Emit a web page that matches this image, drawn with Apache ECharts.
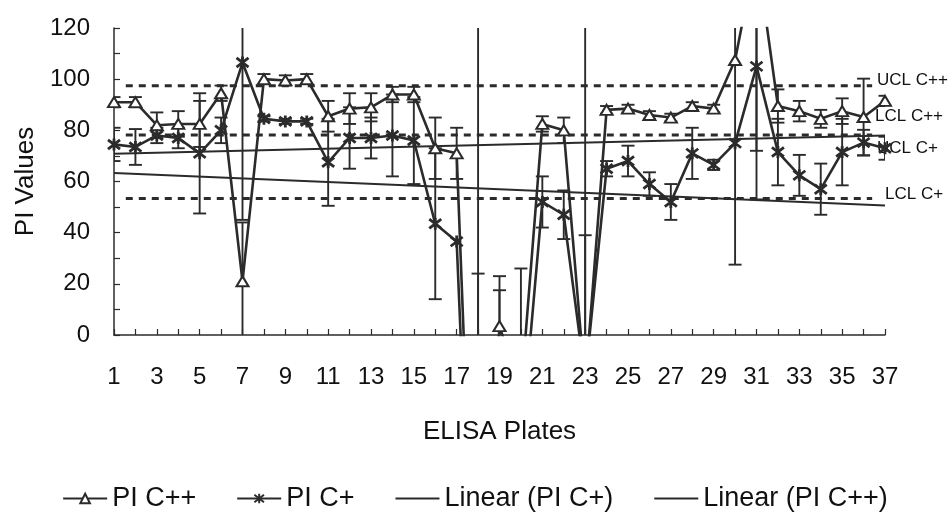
<!DOCTYPE html>
<html>
<head>
<meta charset="utf-8">
<script src="https://cdn.jsdelivr.net/npm/echarts@6/dist/echarts.min.js"></script>
<style>
html,body{margin:0;padding:0;background:#fff;}
#chart{width:950px;height:524px;}
</style>
</head>
<body>
<div id="chart"></div>
<script>
// ---- data ----
var plates = [1,2,3,4,5,6,7,8,9,10,11,12,13,14,15,16,17,18,19,20,21,22,23,24,25,26,27,28,29,30,31,32,33,34,35,36,37];
var piCpp = [91,91,82,82.5,82.5,94.5,21,100,99.5,100,85.5,88.5,89,94,94,73,71,-146,3.5,-23,82.5,80,-20,88,88.5,86,85,89.5,88.5,107.5,150,89.5,87.5,84.5,87.5,85.2,91.5];
var piCppErr = [2,2,5,5,9,3,23,2,2,2,6,6,5.5,3,3,12,10,270,19.5,49,3,5,145,1.5,1.5,1.5,1.5,1.5,1.5,80,97,6.5,4,3.5,5,15,2];
var piCp = [74.5,73.5,78,77,71,80,106.5,84.5,83.5,83.5,67.5,77,77,78,76,43.5,36.5,-161,-60,-43,52,47,-17,65,68,59,52,71,66.5,75,105,71.5,62.4,57,71.5,75.2,73];
var piCpErr = [6.5,7,3,4,23.5,5,61.5,1,1,1,17,12,8,16,17,29.5,0,185,77.5,0,10,9.5,56,3,6,4.6,7,10,2,0,33,13,8,10,13,5,4.5];
var trendCpPlates = [1,37];
var trendCpValues = [70.8,78];
var trendCppPlates = [1,37];
var trendCppValues = [63.3,50.6];
var limitNames = ['UCL C++','LCL C++','UCL C+','LCL C+'];
var limitLineValues = [97.4,78.2,53.4];
var limitSpan = [1.55,36.4];
var yTicks = [0,20,40,60,80,100,120];

// ---- build ----
var FONT = '"Liberation Sans", Arial, sans-serif';
var INK = '#2b2b2b';
function pairs(xs, ys){ return xs.map(function(x,i){ return [x, ys[i]]; }); }
function errData(vals, errs){
  var out = [];
  plates.forEach(function(p,i){ if (errs[i] > 0) out.push([p, vals[i]-errs[i], vals[i]+errs[i]]); });
  return out;
}
function errSeries(data){
  return {
    type:'custom', silent:true, clip:true, z:3,
    data:data,
    encode:{x:0,y:[1,2]},
    renderItem:function(params, api){
      var x = api.value(0);
      var lo = api.coord([x, api.value(1)]);
      var hi = api.coord([x, api.value(2)]);
      var hw = 6.5;
      var st = {stroke:INK, lineWidth:1.9, fill:null};
      return {type:'group', children:[
        {type:'line', shape:{x1:lo[0],y1:lo[1],x2:hi[0],y2:hi[1]}, style:st},
        {type:'line', shape:{x1:lo[0]-hw,y1:lo[1],x2:lo[0]+hw,y2:lo[1]}, style:st},
        {type:'line', shape:{x1:hi[0]-hw,y1:hi[1],x2:hi[0]+hw,y2:hi[1]}, style:st}
      ]};
    }
  };
}
var asterisk = 'path://M0,0L10,10M10,0L0,10M5,-1.5L5,11.5';

var series = [
  errSeries(errData(piCpp, piCppErr)),
  errSeries(errData(piCp, piCpErr)),
  {name:'PI C++', type:'line', data:pairs(plates, piCpp), z:5,
   symbol:'triangle', symbolSize:[12,10], showSymbol:true,
   lineStyle:{color:INK, width:2.6}, itemStyle:{color:'#fff', borderColor:INK, borderWidth:2}},
  {name:'PI C+', type:'line', data:pairs(plates, piCp), z:5,
   symbol:asterisk, symbolSize:12, showSymbol:true,
   lineStyle:{color:INK, width:2.6}, itemStyle:{color:INK, borderColor:INK, borderWidth:2.8}},
  {name:'Linear (PI C+)', type:'line', data:pairs(trendCpPlates, trendCpValues), z:4,
   symbol:'none', lineStyle:{color:INK, width:2}, itemStyle:{color:INK}},
  {name:'Linear (PI C++)', type:'line', data:pairs(trendCppPlates, trendCppValues), z:4,
   symbol:'none', lineStyle:{color:INK, width:2}, itemStyle:{color:INK}}
];
limitLineValues.forEach(function(v){
  series.push({type:'line', silent:true, symbol:'none', z:2,
    data:[[limitSpan[0], v],[limitSpan[1], v]],
    lineStyle:{color:INK, width:3, type:[7,6]}});
});

var chart = echarts.init(document.getElementById('chart'));
chart.setOption({
  backgroundColor:'#fff',
  animation:false,
  textStyle:{fontFamily:FONT, color:'#111'},
  grid:{left:114, right:65, top:28, bottom:189},
  xAxis:{type:'value', min:1, max:37, interval:1,
    name:'ELISA Plates', nameLocation:'middle', nameGap:84,
    nameTextStyle:{fontSize:26, color:'#111', fontFamily:FONT},
    axisLine:{lineStyle:{color:INK, width:1.5}},
    axisTick:{inside:true, length:6, lineStyle:{color:INK, width:1.2}},
    axisLabel:{fontSize:24, color:'#111', margin:30, fontFamily:FONT,
      formatter:function(v){ return (v % 2 === 1) ? String(v) : ''; }},
    splitLine:{show:false}},
  yAxis:{type:'value', min:0, max:120, interval:10,
    name:'PI Values', nameLocation:'middle', nameGap:74, nameRotate:90,
    nameTextStyle:{fontSize:26, color:'#111', fontFamily:FONT},
    axisLine:{show:true, lineStyle:{color:INK, width:1.5}},
    axisTick:{show:true, inside:true, length:6, lineStyle:{color:INK, width:1.2}},
    axisLabel:{fontSize:24, color:'#111', margin:24, fontFamily:FONT,
      formatter:function(v){ return yTicks.indexOf(v) >= 0 ? String(v) : ''; }},
    splitLine:{show:false}},
  legend:{data:[
      {name:'PI C++'},
      {name:'PI C+'},
      {name:'Linear (PI C+)', itemStyle:{opacity:0}},
      {name:'Linear (PI C++)', itemStyle:{opacity:0}}
    ],
    left:'center', top:480, itemWidth:44, itemHeight:12, itemGap:40,
    textStyle:{fontSize:27, color:'#111', fontFamily:FONT}},
  graphic:[
    {type:'text', left:877, top:72, style:{text:limitNames[0], font:'17px '+FONT, fill:'#111'}},
    {type:'text', left:875, top:108, style:{text:limitNames[1], font:'17px '+FONT, fill:'#111'}},
    {type:'text', left:877, top:140, style:{text:limitNames[2], font:'17px '+FONT, fill:'#111'}},
    {type:'text', left:885, top:186, style:{text:limitNames[3], font:'17px '+FONT, fill:'#111'}}
  ],
  series:series
});
</script>
</body>
</html>
